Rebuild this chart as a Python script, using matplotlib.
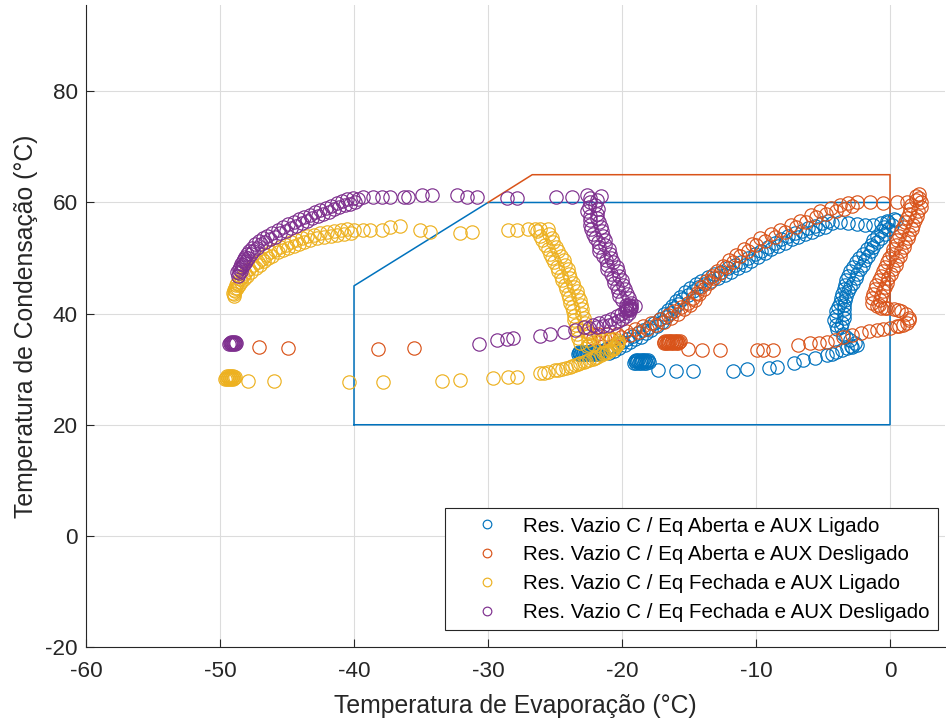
import matplotlib
matplotlib.use("Agg")
import matplotlib.pyplot as plt

plt.rcParams['font.family'] = ['Liberation Sans', 'DejaVu Sans']
plt.rcParams['axes.unicode_minus'] = False

# ---- operating points (evaporation T, condensation T), degC ----

# Eq Aberta, AUX Ligado
aberta_ligado_x = [
    # steady cluster near -22
    -23.30, -23.24, -23.18, -23.12, -23.06, -23.00, -22.94, -22.88, -22.82, -22.76,
    -22.70, -22.64, -22.58, -22.52, -22.46, -22.40, -22.34, -22.28, -22.22, -22.16,
    -22.10, -22.04, -21.98, -21.92, -21.86, -21.80, -21.74, -21.68, -21.62, -21.56,
    -21.50,
    # rising band
    -21.2, -21.0, -20.8, -20.6, -20.4, -20.2, -20.0, -19.8, -19.6, -19.4,
    -19.2, -19.0, -18.8, -18.6, -18.4, -18.2, -18.0, -17.8, -17.6, -17.4,
    -17.2, -17.05, -16.9, -16.75, -16.6, -16.45, -16.3, -16.15, -16.0, -15.85,
    -15.7, -15.5, -15.3, -15.1, -14.9, -14.7, -14.5, -14.3, -14.1, -13.85,
    -13.6, -13.35, -13.1, -12.85, -12.6, -12.35, -12.1, -11.85, -11.6, -11.35,
    -11.1, -10.85, -10.6, -10.35, -10.1, -9.85, -9.6, -9.35, -9.1, -8.85,
    -8.6, -8.35, -8.1, -7.85, -7.6, -7.35, -7.1, -6.85, -6.6, -6.35,
    -6.1, -5.85, -5.6, -5.35, -5.1, -4.85, -4.6,
    -4.3, -3.7, -3.1, -2.5, -1.9, -1.3, -0.7, -0.2, 0.3,
    # descending loop near 0
    0.45, -0.15, 0.15, -0.45, -0.15, -0.65, -0.35, -0.95, -0.65, -1.25,
    -0.95, -1.45, -1.25, -1.75, -1.45, -2.05, -1.65, -2.35, -1.85, -2.55,
    -2.05, -2.75, -2.25, -2.95, -2.45, -3.15, -2.55, -3.25, -2.75, -3.35,
    -2.95, -3.45, -3.15, -3.55, -3.25, -3.65, -3.35, -3.75, -3.45, -3.85,
    -3.45, -4.05, -3.45, -4.05, -3.45, -4.15, -3.55, -4.05, -3.65, -3.95,
    -3.5, -3.3, -3.0, -2.6, -2.5, -2.8, -2.9, -3.2, -3.6, -4.0,
    -4.3, -4.7,
    # return along the bottom
    -5.6, -6.5, -7.2, -8.4, -9.0, -10.7, -11.7, -14.7, -16.0, -17.3,
    # steady cluster near -18.5
    -19.10, -19.04, -18.98, -18.92, -18.86, -18.80, -18.74, -18.68, -18.62, -18.56,
    -18.50, -18.44, -18.38, -18.32, -18.26, -18.20, -18.14, -18.08, -18.02,
]
aberta_ligado_y = [
    32.7, 32.9, 33.1, 32.7, 32.9, 33.1, 32.7, 32.9, 33.1, 32.7,
    32.9, 33.1, 32.7, 32.9, 33.1, 32.7, 32.9, 33.1, 32.7, 32.9,
    33.1, 32.7, 32.9, 33.1, 32.8, 33.0, 33.2, 32.8, 33.0, 33.2,
    33.0,
    33.65, 32.95, 34.05, 33.35, 34.45, 33.85, 34.95, 34.35, 35.45, 34.85,
    35.95, 35.35, 36.45, 35.85, 37.05, 36.45, 37.65, 37.05, 38.35, 37.75,
    39.05, 38.55, 39.85, 39.35, 40.65, 40.15, 41.45, 40.95, 42.25, 41.75,
    43.05, 42.55, 43.85, 43.35, 44.65, 44.15, 45.35, 44.75, 45.95, 45.35,
    46.55, 45.95, 47.05, 46.45, 47.55, 46.95, 48.15, 47.55, 48.75, 48.15,
    49.35, 48.75, 49.95, 49.45, 50.65, 50.15, 51.35, 50.85, 52.05, 51.55,
    52.75, 52.15, 53.35, 52.75, 53.95, 53.35, 54.45, 53.85, 54.95, 54.35,
    55.45, 54.75, 55.85, 55.15, 56.25, 55.55, 56.65,
    56.3, 56.4, 56.3, 56.1, 55.9, 56.0, 56.3, 56.6, 57.1,
    56.8, 56.4, 56.0, 55.6, 55.2, 54.8, 54.4, 54.0, 53.6, 53.2,
    52.8, 52.4, 52.0, 51.6, 51.2, 50.8, 50.4, 50.0, 49.6, 49.2,
    48.8, 48.4, 48.0, 47.6, 47.2, 46.8, 46.4, 46.0, 45.6, 45.2,
    44.8, 44.4, 44.0, 43.6, 43.2, 42.8, 42.4, 42.0, 41.6, 41.2,
    40.8, 40.4, 40.0, 39.6, 39.2, 38.8, 38.4, 38.0, 37.6, 37.2,
    36.4, 35.8, 35.3, 34.8, 34.3, 34.0, 34.2, 33.8, 33.4, 33.1,
    32.8, 32.5,
    32.0, 31.6, 31.1, 30.4, 30.2, 30.0, 29.6, 29.6, 29.6, 29.8,
    31.2, 31.4, 31.6, 31.2, 31.4, 31.6, 31.2, 31.4, 31.6, 31.2,
    31.4, 31.6, 31.2, 31.4, 31.6, 31.2, 31.4, 31.6, 31.3,
]

# Eq Aberta, AUX Desligado
aberta_desligado_x = [
    -47.1, -44.9, -38.2, -35.5,
    # rising band
    -22.5, -22.2, -21.8, -21.5, -21.1, -20.8, -20.4, -20.1, -19.7, -19.4,
    -19.0, -18.7, -18.4, -18.1, -17.8, -17.5, -17.2, -16.9, -16.6, -16.35,
    -16.1, -15.85, -15.6, -15.35, -15.1, -14.9, -14.7, -14.55, -14.4, -14.25,
    -14.1, -13.9, -13.7, -13.5, -13.3, -13.1, -12.9, -12.7, -12.5, -12.25,
    -12.0, -11.75, -11.5, -11.2, -10.9, -10.6, -10.3, -10.0, -9.7, -9.3,
    -8.9, -8.55, -8.2, -7.8, -7.4, -7.05, -6.7, -6.3, -5.9, -5.55,
    -5.2, -4.8, -4.4, -4.05, -3.7, -3.4, -3.1, -2.8, -2.5,
    -1.5, -0.5, 0.5, 1.3,
    # descending loop right of 0
    2.15, 1.95, 2.15, 1.95, 2.3, 1.6, 2.3, 1.5, 2.1, 1.4,
    2.05, 1.25, 1.85, 1.15, 1.75, 0.95, 1.65, 0.85, 1.45, 0.65,
    1.35, 0.55, 1.15, 0.45, 1.05, 0.25, 0.85, 0.15, 0.75, -0.05,
    0.55, -0.25, 0.45, -0.35, 0.25, -0.55, 0.05, -0.65, -0.15, -0.85,
    -0.25, -1.05, -0.35, -1.15, -0.55, -1.25, -0.65, -1.35, -0.75, -1.35,
    -0.85,
    -1.0, -0.7, -0.4, -0.2, 0.3, 0.6, 0.8, 1.2, 1.4, 1.4,
    1.3, 1.0, 0.7, 0.5, 0.0, -0.5, -1.0,
    -1.6, -2.2, -2.8, -3.5, -4.1, -4.7, -5.3,
    # return along the bottom
    -6.0, -6.9, -8.7, -9.5, -9.9, -12.7, -14.0, -15.1,
    # steady cluster near -16
    -16.90, -16.84, -16.78, -16.72, -16.66, -16.60, -16.54, -16.48, -16.42, -16.36,
    -16.30, -16.24, -16.18, -16.12, -16.06, -16.00, -15.94, -15.88, -15.82, -15.76,
    -15.70,
]
aberta_desligado_y = [
    34.0, 33.8, 33.7, 33.9,
    36.5, 35.6, 36.4, 35.5, 36.3, 35.5, 36.4, 35.8, 36.8, 36.2,
    37.3, 36.7, 37.8, 37.3, 38.4, 37.9, 39.0, 38.5, 39.7, 39.2,
    40.4, 40.0, 41.2, 40.8, 42.0, 41.6, 42.8, 42.5, 43.8, 43.5,
    44.8, 44.5, 45.8, 45.5, 46.8, 46.4, 47.7, 47.3, 48.6, 48.3,
    49.6, 49.3, 50.6, 50.3, 51.6, 51.3, 52.6, 52.3, 53.6, 53.1,
    54.3, 53.8, 55.0, 54.6, 55.9, 55.5, 56.7, 56.4, 57.7, 57.3,
    58.5, 58.0, 59.0, 58.5, 59.5, 58.9, 59.9, 59.4, 60.0,
    60.0, 59.9, 60.0, 60.0,
    61.6, 61.2, 60.8, 60.4, 60.0, 59.6, 59.2, 58.8, 58.4, 58.0,
    57.6, 57.2, 56.8, 56.4, 56.0, 55.6, 55.2, 54.8, 54.4, 54.0,
    53.6, 53.2, 52.8, 52.4, 52.0, 51.6, 51.2, 50.8, 50.4, 50.0,
    49.6, 49.2, 48.8, 48.4, 48.0, 47.6, 47.2, 46.8, 46.4, 46.0,
    45.6, 45.2, 44.8, 44.4, 44.0, 43.6, 43.2, 42.8, 42.4, 42.0,
    41.6,
    41.3, 41.0, 41.1, 41.0, 40.9, 40.7, 40.4, 39.9, 39.3, 38.8,
    38.4, 38.0, 37.8, 37.7, 37.5, 37.3, 37.0,
    36.8, 36.5, 36.1, 35.8, 35.3, 34.9, 34.8,
    34.7, 34.3, 33.4, 33.4, 33.4, 33.4, 33.4, 33.6,
    34.7, 34.9, 35.1, 34.7, 34.9, 35.1, 34.7, 34.9, 35.1, 34.7,
    34.9, 35.1, 34.7, 34.9, 35.1, 34.7, 34.9, 35.1, 34.7, 34.9,
    35.0,
]

# Eq Fechada, AUX Ligado
fechada_ligado_x = [
    # steady cluster near -49
    -49.60, -49.55, -49.50, -49.45, -49.40, -49.35, -49.30, -49.25, -49.20, -49.15,
    -49.10, -49.05, -49.00, -48.95, -48.90,
    -47.9, -46.0, -40.4, -37.8, -33.4, -32.1, -29.6, -28.5, -27.8,
    -26.1, -25.8, -25.5, -25.0, -24.8, -24.5, -24.2, -23.9, -23.7, -23.5,
    -23.3, -23.1, -22.8, -22.7, -22.5, -22.2, -22.0, -21.9, -21.6, -21.4,
    -21.2, -21.1, -20.9, -20.8, -20.7, -20.6, -20.5, -20.4, -20.3,
    -20.4, -20.3, -20.6, -21.0, -21.4, -21.8, -22.2, -22.6,
    # upper branch
    -49.0, -48.97, -48.95, -48.92, -48.9, -48.85, -48.8, -48.75, -48.7, -48.6,
    -48.5, -48.4, -48.3, -48.2, -48.1, -47.95, -47.8, -47.65, -47.5, -47.35,
    -47.2, -47.05, -46.9, -46.75, -46.6, -46.45, -46.3, -46.1, -45.9, -45.7,
    -45.5, -45.3, -45.1, -44.9, -44.7, -44.5, -44.3, -44.1, -43.9, -43.7,
    -43.5, -43.25, -43.0, -42.75, -42.5, -42.25, -42.0, -41.75, -41.5, -41.25,
    -41.0, -40.75, -40.5, -40.25, -40.0,
    -39.3, -38.8, -37.9, -37.3, -36.6, -35.1, -34.3, -32.1, -31.2, -28.5,
    -27.8, -27.0, -26.5, -26.1,
    # descending branch
    -25.55, -26.35, -25.45, -26.15, -25.25, -25.95, -25.15, -25.75, -24.95, -25.55,
    -24.75, -25.35, -24.55, -25.25, -24.35, -25.05, -24.25, -24.85, -24.05, -24.75,
    -23.95, -24.55, -23.85, -24.45, -23.65, -24.25, -23.55, -24.15, -23.35, -24.05,
    -23.25, -23.95, -23.15, -23.85, -23.05, -23.75, -22.95, -23.65, -22.95, -23.55,
    -22.85, -23.55, -22.75, -23.45, -22.75, -23.35, -22.65, -23.35, -22.55, -23.25,
    -22.55, -23.15, -22.45,
]
fechada_ligado_y = [
    28.3, 28.5, 28.7, 28.3, 28.5, 28.7, 28.3, 28.5, 28.7, 28.3,
    28.5, 28.7, 28.3, 28.5, 28.6,
    27.8, 27.8, 27.7, 27.7, 27.8, 28.0, 28.4, 28.6, 28.6,
    29.3, 29.4, 29.5, 29.8, 29.9, 30.0, 30.2, 30.4, 30.6, 30.7,
    30.9, 31.1, 31.3, 31.4, 31.6, 31.9, 32.0, 32.2, 32.5, 32.9,
    32.9, 33.1, 33.4, 33.5, 33.7, 33.9, 34.0, 34.3, 34.7,
    34.5, 35.0, 35.4, 35.5, 35.3, 35.0, 34.6, 34.2,
    43.7, 43.1, 44.2, 43.6, 44.7, 44.1, 45.2, 44.6, 45.6, 45.1,
    46.2, 45.7, 46.8, 46.2, 47.3, 46.8, 48.0, 47.5, 48.7, 48.2,
    49.3, 48.8, 49.9, 49.4, 50.5, 50.0, 51.0, 50.4, 51.5, 51.0,
    52.0, 51.4, 52.4, 51.8, 52.8, 52.2, 53.2, 52.6, 53.6, 52.9,
    53.9, 53.3, 54.2, 53.6, 54.5, 53.8, 54.7, 54.0, 54.9, 54.2,
    55.1, 54.4, 55.3, 54.5, 55.0,
    55.0, 55.0, 55.0, 55.5, 55.7, 55.0, 54.6, 54.5, 54.6, 55.0,
    55.0, 55.2, 55.2, 55.3,
    55.2, 54.8, 54.4, 54.0, 53.6, 53.2, 52.8, 52.4, 52.0, 51.6,
    51.2, 50.8, 50.4, 50.0, 49.6, 49.2, 48.8, 48.4, 48.0, 47.6,
    47.2, 46.8, 46.4, 46.0, 45.6, 45.2, 44.8, 44.4, 44.0, 43.6,
    43.2, 42.8, 42.4, 42.0, 41.6, 41.2, 40.8, 40.4, 40.0, 39.6,
    39.2, 38.8, 38.4, 38.0, 37.6, 37.2, 36.8, 36.4, 36.0, 35.6,
    35.2, 34.8, 34.4,
]

# Eq Fechada, AUX Desligado
fechada_desligado_x = [
    # steady cluster near -49
    -49.30, -49.25, -49.20, -49.15, -49.10, -49.05, -49.00, -48.95, -48.90, -48.85,
    -48.80,
    -30.7, -29.3, -28.6, -28.1, -26.1, -25.4, -24.3, -23.5, -22.8, -22.5,
    -22.2, -21.9, -21.7, -21.4, -21.2, -21.0, -20.8, -20.6, -20.4, -20.3,
    -20.1, -20.0, -19.8, -19.7, -19.6, -19.5, -19.4, -19.3,
    -19.5, -19.7, -19.4, -19.6, -19.3,
    # descending branch
    -21.6, -22.4, -21.9, -22.4, -22.0, -22.5, -21.8, -22.6, -21.9, -22.4,
    -21.9, -22.4, -21.7, -22.4, -21.6, -22.3, -21.5, -22.2, -21.4, -22.0,
    -21.3, -21.8, -21.3, -21.7, -21.0, -21.7, -20.9, -21.4, -20.8, -21.2,
    -20.7, -21.1, -20.4, -21.1, -20.3, -20.8, -20.2, -20.7, -20.0, -20.6,
    -19.9, -20.4, -19.8, -20.3, -19.6, -20.2, -19.5, -20.0, -19.3, -19.7,
    -19.0, -19.4,
    # upper branch
    -48.7, -48.65, -48.6, -48.55, -48.5, -48.45, -48.4, -48.35, -48.3, -48.25,
    -48.2, -48.15, -48.1, -48.05, -48.0, -47.9, -47.8, -47.7, -47.6, -47.5,
    -47.4, -47.25, -47.1, -46.95, -46.8, -46.65, -46.5, -46.3, -46.1, -45.9,
    -45.7, -45.5, -45.3, -45.1, -44.9, -44.7, -44.5, -44.3, -44.1, -43.9,
    -43.7, -43.5, -43.3, -43.1, -42.9, -42.7, -42.5, -42.3, -42.1, -41.9,
    -41.7, -41.5, -41.3, -41.1, -40.9, -40.7, -40.5, -40.3, -40.1, -39.9,
    -39.7,
    -39.3, -38.6, -37.9, -37.3, -36.3, -36.0, -34.9, -34.2, -32.3, -31.6,
    -30.8, -28.6, -27.8, -24.9, -23.7, -22.6,
]
fechada_desligado_y = [
    34.5, 34.7, 34.9, 34.5, 34.7, 34.9, 34.5, 34.7, 34.9, 34.5,
    34.7,
    34.5, 35.2, 35.4, 35.6, 35.9, 36.3, 36.7, 37.0, 37.6, 37.4,
    38.0, 37.6, 38.3, 37.8, 38.6, 38.0, 39.0, 38.3, 39.5, 38.7,
    40.0, 39.1, 40.5, 39.6, 40.9, 40.1, 40.6, 41.0,
    41.6, 41.0, 40.8, 40.6, 41.4,
    61.2, 60.8, 60.4, 60.0, 59.6, 59.2, 58.8, 58.4, 58.0, 57.6,
    57.2, 56.8, 56.4, 56.0, 55.6, 55.2, 54.8, 54.4, 54.0, 53.6,
    53.2, 52.8, 52.4, 52.0, 51.6, 51.2, 50.8, 50.4, 50.0, 49.6,
    49.2, 48.8, 48.4, 48.0, 47.6, 47.2, 46.8, 46.4, 46.0, 45.6,
    45.2, 44.8, 44.4, 44.0, 43.6, 43.2, 42.8, 42.4, 42.0, 41.6,
    41.3, 41.1,
    47.45, 46.85, 47.95, 47.35, 48.45, 47.75, 48.95, 48.35, 49.45, 48.75,
    49.85, 49.15, 50.25, 49.55, 50.65, 50.05, 51.25, 50.65, 51.85, 51.25,
    52.45, 51.85, 53.05, 52.45, 53.65, 52.95, 54.05, 53.45, 54.55, 53.85,
    55.05, 54.45, 55.55, 54.85, 56.05, 55.45, 56.55, 55.85, 56.95, 56.25,
    57.35, 56.65, 57.75, 57.15, 58.25, 57.55, 58.65, 57.95, 59.05, 58.35,
    59.45, 58.75, 59.85, 59.15, 60.25, 59.55, 60.55, 59.75, 60.85, 60.05,
    60.6,
    60.9, 60.9, 60.9, 60.9, 60.9, 60.9, 61.3, 61.3, 61.3, 60.9,
    60.9, 60.8, 60.8, 61.0, 60.9, 61.3,
]

labels = [
    "Res. Vazio C / Eq Aberta e AUX Ligado",
    "Res. Vazio C / Eq Aberta e AUX Desligado",
    "Res. Vazio C / Eq Fechada e AUX Ligado",
    "Res. Vazio C / Eq Fechada e AUX Desligado",
]
colors = ["#0072BD", "#D95319", "#EDB120", "#7E2F8E"]
series_x = [aberta_ligado_x, aberta_desligado_x, fechada_ligado_x, fechada_desligado_x]
series_y = [aberta_ligado_y, aberta_desligado_y, fechada_ligado_y, fechada_desligado_y]

# compressor operating envelopes
envelope_c_x = [-40, -40, -30, 0, 0, -40]
envelope_c_y = [20, 45, 60, 60, 20, 20]
envelope_d_x = [-30, -26.7, 0, 0]
envelope_d_y = [60, 65, 65, 40]

fig = plt.figure(figsize=(9.46, 7.26), dpi=100)
ax = fig.add_axes([0.0909, 0.1088, 0.908, 0.884])

ax.plot(envelope_c_x, envelope_c_y, color="#0072BD", lw=1.1, zorder=2)
ax.plot(envelope_d_x, envelope_d_y, color="#D95319", lw=1.1, zorder=2)

for label, xs, ys, col in zip(labels, series_x, series_y, colors):
    ax.plot(xs, ys, linestyle="none", marker="o", markersize=9.6,
            markerfacecolor="none", markeredgecolor=col, markeredgewidth=0.85,
            label=label, zorder=3)

ax.set_xlim(-60, 4.1)
ax.set_ylim(-20, 95.5)
ax.set_xticks([-60, -50, -40, -30, -20, -10, 0])
ax.set_yticks([-20, 0, 20, 40, 60, 80])

ax.grid(True, color="#dcdcdc", linewidth=0.8)
ax.set_axisbelow(True)
for side in ("top", "right"):
    ax.spines[side].set_visible(False)
for side in ("left", "bottom"):
    ax.spines[side].set_color("#262626")
    ax.spines[side].set_linewidth(0.8)
ax.tick_params(direction="in", length=6, width=0.8, colors="#262626",
               labelsize=16.2, labelcolor="#262626")
ax.tick_params(axis="x", pad=10)
ax.tick_params(axis="y", pad=6)

ax.set_xlabel("Temperatura de Evaporação (°C)", fontsize=17.8, color="#262626", labelpad=9)
ax.set_ylabel("Temperatura de Condensação (°C)", fontsize=17.8, color="#262626", labelpad=5)

leg = ax.legend(loc="lower right", bbox_to_anchor=(0.9915, 0.026), borderaxespad=0,
                fontsize=14.8, markerscale=0.65, handlelength=3.3, handletextpad=0.1,
                labelspacing=0.48, borderpad=0.4, fancybox=False, framealpha=1,
                edgecolor="#262626")
leg.get_frame().set_linewidth(0.8)

fig.savefig("out.png", dpi=100)
